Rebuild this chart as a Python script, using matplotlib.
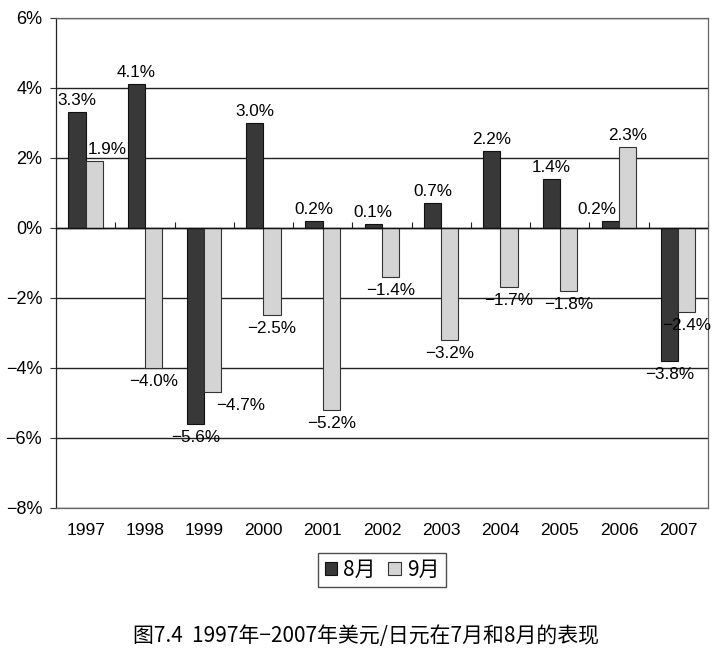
import numpy as np
import matplotlib
matplotlib.use("Agg")
import matplotlib.pyplot as plt
from matplotlib.ticker import FuncFormatter

plt.rcParams['font.family'] = ['Liberation Sans', 'Noto Sans CJK SC', 'DejaVu Sans']

# data (percent)
years = ['1997', '1998', '1999', '2000', '2001', '2002', '2003', '2004', '2005', '2006', '2007']
aug = [3.3, 4.1, -5.6, 3.0, 0.2, 0.1, 0.7, 2.2, 1.4, 0.2, -3.8]
sep = [1.9, -4.0, -4.7, -2.5, -5.2, -1.4, -3.2, -1.7, -1.8, 2.3, -2.4]
series_names = ['8月', '9月']
caption = '图7.4  1997年−2007年美元/日元在7月和8月的表现'

fig = plt.figure(figsize=(7.23, 6.64), dpi=100)
ax = fig.add_axes([0.0775, 0.235, 0.9015, 0.738])

x = np.arange(len(years))
w = 0.29
dark = ax.bar(x - w / 2, aug, w, color='#383838', edgecolor='#111111', linewidth=0.8,
              label=series_names[0], zorder=3)
light = ax.bar(x + w / 2, sep, w, color='#d4d4d4', edgecolor='#333333', linewidth=0.8,
               label=series_names[1], zorder=3)

ax.set_xlim(-0.5, len(years) - 0.5)
ax.set_ylim(-8, 6)
ax.set_yticks(np.arange(-8, 7, 2))
ax.yaxis.set_major_formatter(FuncFormatter(lambda v, p: f'{v:.0f}%'.replace('-', '\u2212')))
ax.tick_params(axis='y', labelsize=13, length=4, pad=6, color='#333333')
ax.set_xticks(x)
ax.set_xticklabels(years, fontsize=12.5)
ax.tick_params(axis='x', length=0, pad=11)
ax.grid(axis='y', color='#222222', linewidth=1.0, zorder=1)
ax.axhline(0, color='#111111', linewidth=1.0, zorder=4)
for s in ax.spines.values():
    s.set_color('#666666')
    s.set_linewidth(0.9)
ax.spines['left'].set_color('#222222')

# category separators on the zero line
sec = ax.secondary_xaxis(8 / 14)
sec.set_xticks(np.arange(len(years) + 1) - 0.5)
sec.tick_params(length=4, direction='out', labelbottom=False, labeltop=False, color='#222222')
sec.spines['bottom'].set_visible(False)
sec.spines['top'].set_visible(False)

# some labels were shifted sideways in the original to avoid overlap
shift_aug = [0, 0, 0, 0, 0, 0, 0, 0, 0, -10, 0]
shift_sep = [9, 0, 20, 0, 0, 0, 0, 0, 0, 0, 0]

def fmt(v):
    return f'{v:.1f}%'.replace('-', '\u2212')

for bars, vals, shifts in [(dark, aug, shift_aug), (light, sep, shift_sep)]:
    for b, v, sh in zip(bars, vals, shifts):
        cx = b.get_x() + b.get_width() / 2
        ax.annotate(fmt(v), (cx, v), xytext=(sh, 3 if v >= 0 else -4),
                    textcoords='offset points', ha='center',
                    va='bottom' if v >= 0 else 'top', fontsize=12.3, zorder=5)

leg = fig.legend(handles=[dark, light], labels=series_names, loc='center',
                 bbox_to_anchor=(382 / 723, 1 - 570 / 664), ncol=2, frameon=True,
                 fancybox=False, edgecolor='#222222', handlelength=0.6, handleheight=0.6,
                 handletextpad=0.3, columnspacing=0.6, borderpad=0.3,
                 prop={'family': ['Noto Sans CJK SC'], 'size': 15})
leg.get_frame().set_linewidth(1.0)

fig.text(366 / 723, 1 - 636 / 664, caption, ha='center', va='center', fontsize=15,
         family=['Noto Sans CJK SC', 'DejaVu Sans'])

fig.savefig('out.png', dpi=100)
